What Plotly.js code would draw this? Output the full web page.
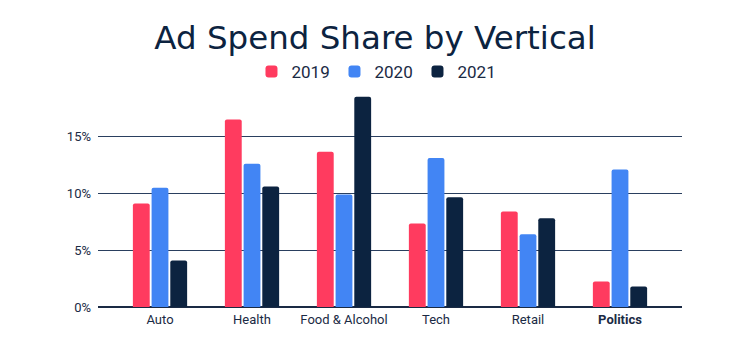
<!DOCTYPE html>
<html>
<head>
<meta charset="utf-8">
<script src="https://cdn.plot.ly/plotly-3.0.1.min.js"></script>
<style>html,body{margin:0;padding:0;background:#fff;}#chart{width:750px;height:350px;}</style>
</head>
<body>
<div id="chart"></div>
<script>
const categories = ["Auto", "Health", "Food & Alcohol", "Tech", "Retail", "Politics"];
const tickLabels = ["Auto", "Health", "Food & Alcohol", "Tech", "Retail", "<b>Politics</b>"];
const seriesNames = ["2019", "2020", "2021"];
const values2019 = [9.1, 16.5, 13.65, 7.35, 8.4, 2.25];
const values2020 = [10.5, 12.6, 9.9, 13.1, 6.4, 12.1];
const values2021 = [4.1, 10.6, 18.5, 9.65, 7.8, 1.8];
const colors = ["#FF3B5F", "#4285F4", "#0C2340"];

const allValues = [values2019, values2020, values2021];
const traces = allValues.map((v, i) => ({
  type: "bar",
  name: seriesNames[i],
  x: categories,
  y: v,
  marker: {color: colors[i], cornerradius: 2},
  hoverinfo: "none"
}));

const layout = {
  width: 750, height: 350,
  margin: {l: 98, r: 68, t: 91, b: 43},
  paper_bgcolor: "#ffffff",
  plot_bgcolor: "#ffffff",
  title: {
    text: "Ad Spend Share by Vertical",
    font: {family: "'DejaVu Sans', sans-serif", size: 32.5, color: "#0C2340"},
    x: 0.5, xanchor: "center", y: 0.893, yanchor: "middle"
  },
  showlegend: true,
  legend: {
    orientation: "h", x: 0.476, xanchor: "center", y: 1.088, yanchor: "middle",
    font: {family: "Roboto, sans-serif", size: 17, color: "#1a2a44"},
    itemwidth: 30, traceorder: "normal",
    entrywidth: 38, entrywidthmode: "pixels"
  },
  bargap: 0.39,
  bargroupgap: 0.1,
  xaxis: {
    type: "category",
    range: [-0.674, 5.674],
    tickmode: "array",
    tickvals: categories,
    ticktext: tickLabels,
    tickfont: {family: "Roboto, sans-serif", size: 13, color: "#1a2a44"},
    showgrid: false, zeroline: false, showline: false,
    ticks: "", ticklabelstandoff: 3
  },
  yaxis: {
    range: [0, 19],
    tickmode: "array",
    tickvals: [0, 5, 10, 15],
    ticktext: ["0%", "5%", "10%", "15%"],
    tickfont: {family: "Roboto, sans-serif", size: 13, color: "#1a2a44"},
    showgrid: true, gridcolor: "#2a3f5f", gridwidth: 1,
    zeroline: true, zerolinecolor: "#1a2a44", zerolinewidth: 1.5,
    showline: false, ticks: "", ticklen: 0, ticklabelstandoff: 6
  }
};

Plotly.newPlot("chart", traces, layout, {displayModeBar: false, staticPlot: true});
</script>
</body>
</html>
